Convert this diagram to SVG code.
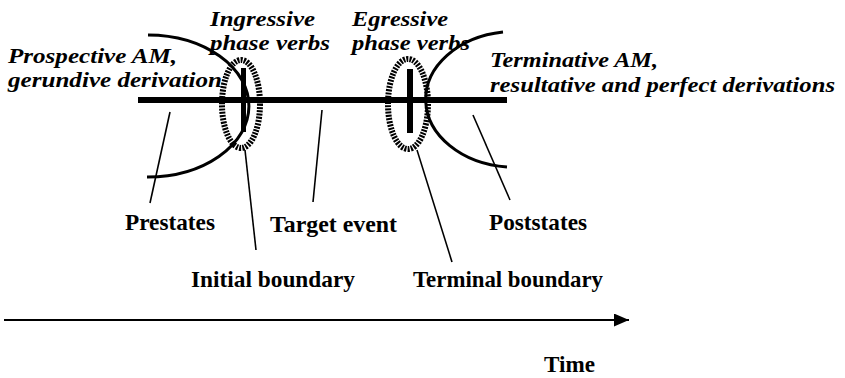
<svg xmlns="http://www.w3.org/2000/svg" width="845" height="378" viewBox="0 0 845 378">
<defs>
<style>
.lab{font-family:"Liberation Serif","Times New Roman",serif;font-size:21px;font-weight:bold;font-style:italic;fill:#000}
.reg{font-family:"Liberation Serif","Times New Roman",serif;font-size:23px;font-weight:bold;fill:#000}
.thin{stroke:#000;stroke-width:1.6;fill:none}
.arc{stroke:#000;stroke-width:3;fill:none}
.ring{stroke:#000;stroke-width:6;fill:none;stroke-dasharray:2 1.2}
.bar{fill:#000}
</style>
<marker id="ah" markerWidth="15" markerHeight="13" refX="15" refY="6.5" orient="auto" markerUnits="userSpaceOnUse">
<path d="M0,0 L15,6.5 L0,13 Z" fill="#000"/>
</marker>
</defs>
<rect width="845" height="378" fill="#fff"/>
<g id="timeline">
<rect x="138" y="97" width="369" height="6" class="bar"/>
</g>
<g id="prestate-arc"><path class="arc" d="M148,35 A100,70 0 0 1 147,177"/></g>
<g id="poststate-arc"><path class="arc" d="M503,32 A90,68 0 0 0 507,167"/></g>
<g id="initial-boundary">
<ellipse class="ring" cx="241" cy="104" rx="19" ry="44"/>
<rect x="241" y="68" width="5" height="64" class="bar"/>
</g>
<g id="terminal-boundary">
<ellipse class="ring" cx="408" cy="104" rx="20" ry="45"/>
<rect x="407" y="69" width="6" height="64" class="bar"/>
</g>
<g id="connectors">
<line class="thin" x1="170" y1="112" x2="150" y2="203"/>
<line class="thin" x1="245" y1="150" x2="256" y2="250"/>
<line class="thin" x1="322" y1="110" x2="313" y2="202"/>
<line class="thin" x1="417" y1="150" x2="452" y2="262"/>
<line class="thin" x1="473" y1="115" x2="510" y2="200"/>
<line x1="4" y1="320" x2="629" y2="320" stroke="#000" stroke-width="2" marker-end="url(#ah)"/>
</g>
<g id="labels-top">
<text class="lab" x="8" y="63" textLength="169" lengthAdjust="spacingAndGlyphs">Prospective AM,</text>
<text class="lab" x="8" y="87" textLength="214" lengthAdjust="spacingAndGlyphs">gerundive derivation</text>
<text class="lab" x="210" y="26" textLength="105" lengthAdjust="spacingAndGlyphs">Ingressive</text>
<text class="lab" x="210" y="50" textLength="120" lengthAdjust="spacingAndGlyphs">phase verbs</text>
<text class="lab" x="352" y="26" textLength="96" lengthAdjust="spacingAndGlyphs">Egressive</text>
<text class="lab" x="352" y="50" textLength="118" lengthAdjust="spacingAndGlyphs">phase verbs</text>
<text class="lab" x="490" y="67" textLength="168" lengthAdjust="spacingAndGlyphs">Terminative AM,</text>
<text class="lab" x="490" y="92" textLength="345" lengthAdjust="spacingAndGlyphs">resultative and perfect derivations</text>
</g>
<g id="labels-bottom">
<text class="reg" x="125" y="230" textLength="90" lengthAdjust="spacingAndGlyphs">Prestates</text>
<text class="reg" x="270" y="232" textLength="127" lengthAdjust="spacingAndGlyphs">Target event</text>
<text class="reg" x="489" y="230" textLength="98" lengthAdjust="spacingAndGlyphs">Poststates</text>
<text class="reg" x="191" y="287" textLength="164" lengthAdjust="spacingAndGlyphs">Initial boundary</text>
<text class="reg" x="413" y="287" textLength="190" lengthAdjust="spacingAndGlyphs">Terminal boundary</text>
<text class="reg" x="544" y="372" textLength="51" lengthAdjust="spacingAndGlyphs">Time</text>
</g>
</svg>
